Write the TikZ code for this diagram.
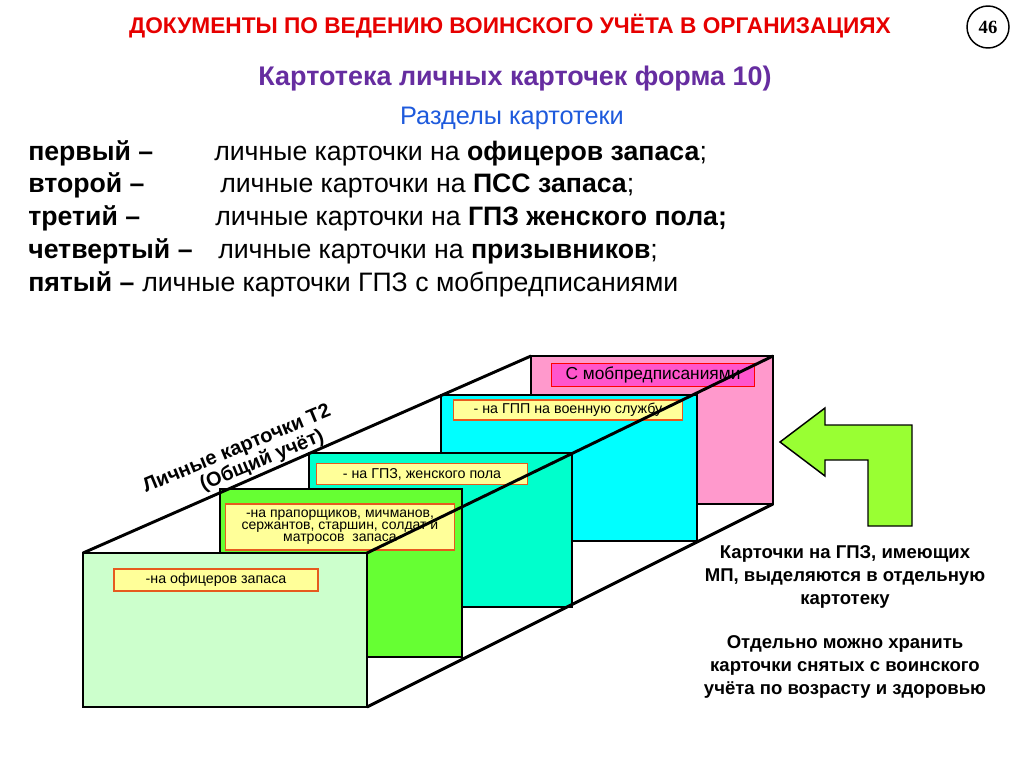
\documentclass[tikz,border=0pt]{standalone}
\usepackage{fontspec}
\setmainfont{Liberation Sans}
\newfontfamily\seriffont{Liberation Serif}

\definecolor{titlered}{RGB}{230,0,0}
\definecolor{headviolet}{RGB}{102,45,160}
\definecolor{subblue}{RGB}{30,90,220}
\definecolor{cardone}{RGB}{204,255,204}
\definecolor{cardtwo}{RGB}{102,255,51}
\definecolor{cardthree}{RGB}{0,255,204}
\definecolor{cardfour}{RGB}{0,255,255}
\definecolor{cardfive}{RGB}{255,153,204}
\definecolor{tagfill}{RGB}{255,255,153}
\definecolor{tagline}{RGB}{230,90,30}
\definecolor{tagpink}{RGB}{255,85,204}
\definecolor{arrowgreen}{RGB}{153,255,51}

\begin{document}
\begin{tikzpicture}[x=0.75pt, y=-0.75pt,
    card/.style={draw, line width=1.1pt, anchor=north west, inner sep=0pt, outer sep=0pt},
    tag/.style={draw=tagline, fill=tagfill, line width=1pt, inner sep=1pt,
        font=\fontsize{10.7}{11}\selectfont, align=center},
    rib/.style={line width=2.2pt},
    listhead/.style={anchor=base west, inner sep=0pt, font=\bfseries\fontsize{20}{22}\selectfont},
    listtext/.style={anchor=base west, inner sep=0pt, font=\fontsize{20}{22}\selectfont},
    note/.style={align=center, font=\bfseries\fontsize{13.9}{17.3}\selectfont}]

\useasboundingbox (0,0) rectangle (1024,767);

% Header
\node[text=titlered, font=\bfseries\fontsize{17}{20}\selectfont] (title) at (510,26)
    {ДОКУМЕНТЫ ПО ВЕДЕНИЮ ВОИНСКОГО УЧЁТА В ОРГАНИЗАЦИЯХ};
\node[draw, circle, line width=1.1pt, minimum size=42*0.75pt, inner sep=0pt,
    font=\seriffont\bfseries\fontsize{14}{14}\selectfont] (pagenum) at (988,27) {46};
\node[text=headviolet, font=\bfseries\fontsize{20.2}{23}\selectfont] (head) at (515,79)
    {Картотека личных карточек форма 10)};
\node[text=subblue, font=\fontsize{19}{22}\selectfont] (sub) at (512,118)
    {Разделы картотеки};

% Sections of the file
\node[listhead] (s1) at (28,160) {первый –};
\node[listtext] (t1) at (214,160) {личные карточки на \textbf{офицеров запаса};};
\node[listhead] (s2) at (28,192) {второй –};
\node[listtext] (t2) at (220,192) {личные карточки на \textbf{ПСС запаса};};
\node[listhead] (s3) at (28,225) {третий –};
\node[listtext] (t3) at (215,225) {личные карточки на \textbf{ГПЗ женского пола;}};
\node[listhead] (s4) at (28,258) {четвертый –};
\node[listtext] (t4) at (218,258) {личные карточки на \textbf{призывников};};
\node[listhead] (s5) at (28,291) {пятый –};
\node[listtext] (t5) at (142,291) {личные карточки ГПЗ с мобпредписаниями};

% Card boxes, back to front
\node[card, fill=cardfive, minimum width=242*0.75pt, minimum height=148*0.75pt] (c5) at (531,356) {};
\node[card, fill=cardfour, minimum width=256*0.75pt, minimum height=146*0.75pt] (c4) at (441,395) {};
\node[card, fill=cardthree, minimum width=263*0.75pt, minimum height=154*0.75pt] (c3) at (309,453) {};
\node[card, fill=cardtwo, minimum width=242*0.75pt, minimum height=168*0.75pt] (c2) at (220,489) {};
\node[card, fill=cardone, minimum width=284*0.75pt, minimum height=154*0.75pt] (c1) at (83,553) {};

% Labels on the cards
\node[tag, draw=red, fill=tagpink, font=\fontsize{13}{13}\selectfont,
    minimum width=203*0.75pt, minimum height=23*0.75pt] (l5) at (653,375) {С мобпредписаниями};
\node[tag, minimum width=229*0.75pt, minimum height=20*0.75pt] (l4) at (568,410) {- на ГПП на военную службу};
\node[tag, minimum width=211*0.75pt, minimum height=21*0.75pt] (l3) at (422,474) {- на ГПЗ, женского пола};
\node[tag, minimum width=229*0.75pt, minimum height=46*0.75pt, font=\fontsize{10.5}{8.8}\selectfont] (l2) at (340,527)
    {-на прапорщиков, мичманов,\\сержантов, старшин, солдат и\\матросов\ \ запаса};
\node[tag, minimum width=204*0.75pt, minimum height=22*0.75pt] (l1) at (216,580) {-на офицеров запаса};

% Edges of the file
\draw[rib] (c1.north west) -- (c5.north west);
\draw[rib] (c1.north east) -- (c5.north east);
\draw[rib] (c1.south east) -- (c5.south east);

\node[rotate=22.5, align=left, inner sep=0pt,
    font=\bfseries\fontsize{15}{12.5}\selectfont] (common) at (241,459)
    {Личные карточки Т2\\\hspace*{40pt}(Общий учёт)};

% Arrow into the file
\draw[fill=arrowgreen, line width=1.1pt]
    (780,442) -- (825,408) -- (825,425) -- (912,425) -- (912,526) -- (868,526)
    -- (868,460) -- (825,460) -- (825,476) -- cycle;

% Notes
\node[note] (n1) at (845,577) {Карточки на ГПЗ, имеющих\\МП, выделяются в отдельную\\картотеку};
\node[note] (n2) at (845,667) {Отдельно можно хранить\\карточки снятых с воинского\\учёта по возрасту и здоровью};

\end{tikzpicture}
\end{document}
